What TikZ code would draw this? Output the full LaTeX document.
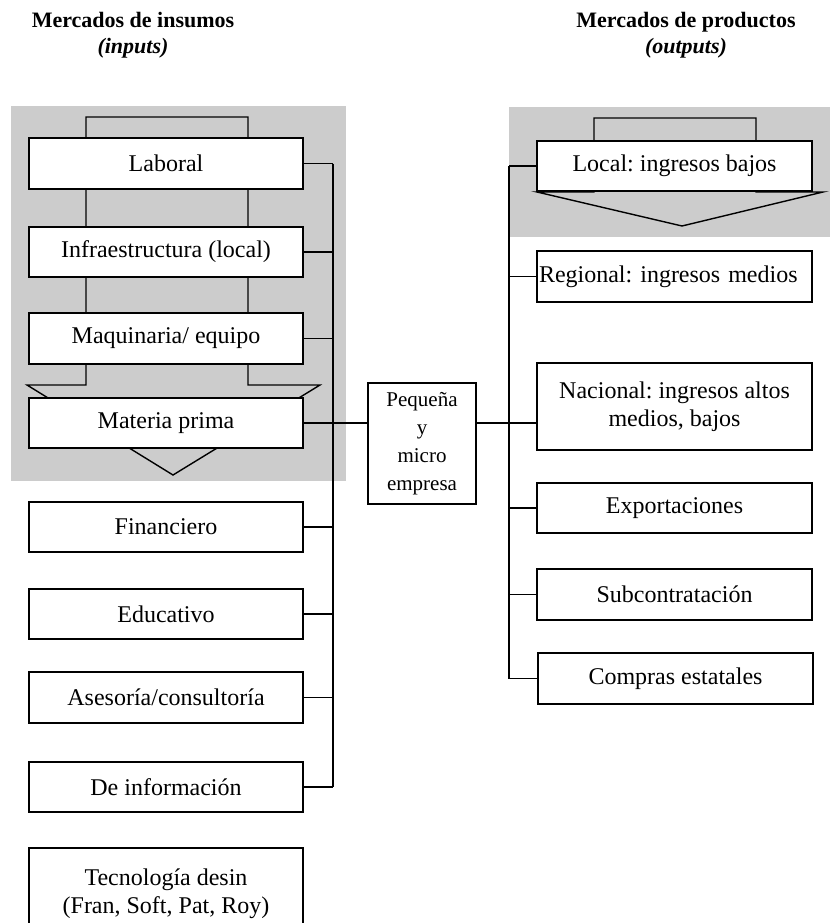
\documentclass[tikz,border=0pt]{standalone}
\usepackage{fontspec}
\setmainfont{Liberation Serif}
\definecolor{gry}{RGB}{204,204,204}
\frenchspacing
\begin{document}
\begin{tikzpicture}[x=1pt,y=-1pt,
  ln/.style={line width=1.4pt},
  box/.style={draw, line width=1.4pt, fill=white, inner sep=0pt,
    font=\fontsize{24}{27.6}\selectfont, align=center},
  lbox/.style={box, minimum width=274pt, minimum height=50pt},
  rbox/.style={box, minimum width=275pt, minimum height=50pt},
  ttl/.style={anchor=base, font=\bfseries\fontsize{22}{25}\selectfont},
  sttl/.style={anchor=base, font=\bfseries\itshape\fontsize{22}{25}\selectfont}]
\useasboundingbox (0,0) rectangle (830,923);
\clip (0,0) rectangle (830,923);
\fill[white] (0,0) rectangle (830,923);

% titles
\node[ttl] (t1) at (133,28) {Mercados de insumos};
\node[sttl] (t1b) at (133,54) {(inputs)};
\node[ttl] (t2) at (686,28) {Mercados de productos};
\node[sttl] (t2b) at (686,54) {(outputs)};

% gray panels
\fill[gry] (11,106) rectangle (346,481);
\fill[gry] (509,107) rectangle (830,237);

% block arrows
\draw[ln, fill=gry, line join=miter] (86,117) -- (248,117) -- (248,385) -- (320,385) -- (173,475) -- (27,385) -- (86,385) -- cycle;
\draw[ln, fill=gry, line join=miter] (594,118) -- (756,118) -- (756,192) -- (823,192) -- (682,226) -- (537,192) -- (594,192) -- cycle;

% left boxes
\node[lbox, minimum height=51pt] (lab) at (166,163.5) {Laboral};
\node[lbox] (infra) at (166,252) {Infraestructura (local)};
\node[lbox, minimum height=51pt] (maq) at (166,338.5) {Maquinaria/ equipo};
\node[lbox] (mp) at (166,423) {Materia prima};
\node[lbox] (fin) at (166,527) {Financiero};
\node[lbox] (edu) at (166,614) {Educativo};
\node[lbox, minimum height=51pt] (ase) at (166,697.5) {Asesoría/consultoría};
\node[lbox] (info) at (166,787) {De información};
\node[lbox, minimum height=92pt] (tec) at (166,894) {Tecnología desin\\(Fran, Soft, Pat, Roy)};

% center
\node[box, minimum width=108pt, minimum height=121pt, font=\fontsize{21}{28}\selectfont] (peq) at (422,443.5) {Pequeña\\y\\micro\\empresa};

% right boxes
\node[rbox] (loc) at (674.5,166) {Local: ingresos bajos};
\node[box, minimum height=51pt, text width=271pt, inner xsep=2pt, align=left] (reg) at (674.5,276.5) {Regional: ingresos medios};
\node[rbox, minimum height=87pt] (nac) at (674.5,406.5) {Nacional: ingresos altos\\medios, bajos};
\node[rbox] (exp) at (674.5,508) {Exportaciones};
\node[rbox, minimum height=51pt] (sub) at (674.5,594.5) {Subcontratación};
\node[rbox, minimum height=51pt] (comp) at (675.5,678.5) {Compras estatales};

% buses
\coordinate (bx) at (333,0);
\coordinate (rbx) at (509,0);
\draw[ln] (lab.east -| bx) -- (info.east -| bx);
\foreach \n in {lab,infra,maq,fin,edu,ase,info}
  \draw[ln] (\n.east) -- (\n.east -| bx);
\draw[ln] (mp.east) -- (mp.east -| peq.west);
\draw[ln] (peq.east |- mp.east) -- (mp.east -| nac.west);
\draw[ln] (rbx |- loc.west) -- (rbx |- comp.west);
\foreach \n in {loc,reg,exp,sub,comp}
  \draw[ln] (rbx |- \n.west) -- (\n.west);
\end{tikzpicture}
\end{document}
